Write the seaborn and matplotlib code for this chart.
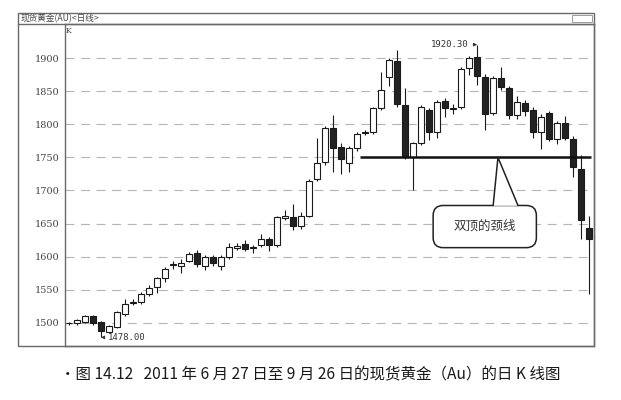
import matplotlib
matplotlib.use("Agg")
import matplotlib.pyplot as plt
import seaborn as sns
import numpy as np
import pandas as pd
from matplotlib.patches import Rectangle, FancyBboxPatch, Polygon
from matplotlib.lines import Line2D

# --- DADOS (27/06/2011 a 26/09/2011, 66 pregões) ---
opens = [1499, 1499, 1501, 1510, 1501, 1486, 1494, 1514, 1530, 1531,
         1544, 1554, 1567, 1587, 1586, 1594, 1605, 1586, 1599, 1586,
         1599, 1613, 1619, 1613, 1617, 1626, 1618, 1659, 1660, 1647,
         1662, 1718, 1743, 1794, 1765, 1741, 1764, 1787, 1788, 1824,
         1871, 1896, 1829, 1750, 1771, 1821, 1788, 1835, 1823, 1826,
         1885, 1902, 1871, 1817, 1870, 1855, 1814, 1832, 1821, 1788,
         1817, 1777, 1802, 1778, 1733, 1644]
closes = [1499, 1504, 1510, 1499, 1487, 1495, 1516, 1529, 1532, 1544,
          1553, 1567, 1582, 1588, 1591, 1604, 1589, 1600, 1591, 1600,
          1614, 1616, 1612, 1615, 1627, 1618, 1660, 1661, 1647, 1662,
          1715, 1741, 1795, 1764, 1747, 1764, 1786, 1789, 1824, 1852,
          1897, 1830, 1750, 1771, 1826, 1788, 1834, 1824, 1825, 1883,
          1900, 1873, 1815, 1870, 1856, 1814, 1834, 1820, 1788, 1811,
          1777, 1802, 1780, 1735, 1655, 1626]
highs = [1502, 1506, 1512, 1512, 1503, 1497, 1518, 1536, 1536, 1547,
         1557, 1570, 1585, 1594, 1596, 1607, 1610, 1602, 1603, 1603,
         1620, 1620, 1625, 1618, 1634, 1630, 1662, 1670, 1679, 1668,
         1718, 1779, 1798, 1814, 1772, 1767, 1789, 1792, 1826, 1879,
         1900, 1912, 1855, 1773, 1829, 1824, 1837, 1840, 1830, 1886,
         1903, 1920.3, 1876, 1873, 1887, 1858, 1843, 1837, 1826, 1815,
         1820, 1805, 1812, 1782, 1753, 1662]
lows = [1496, 1497, 1499, 1497, 1478, 1484, 1492, 1511, 1527, 1529,
        1541, 1545, 1562, 1582, 1576, 1592, 1584, 1580, 1586, 1580,
        1596, 1610, 1608, 1606, 1614, 1608, 1614, 1655, 1640, 1642,
        1660, 1714, 1738, 1728, 1725, 1728, 1760, 1784, 1786, 1821,
        1858, 1826, 1748, 1700, 1768, 1776, 1780, 1811, 1815, 1823,
        1874, 1860, 1792, 1814, 1852, 1808, 1808, 1812, 1780, 1762,
        1774, 1770, 1776, 1720, 1627, 1544]
y_ticks = [1500, 1550, 1600, 1650, 1700, 1750, 1800, 1850, 1900]
neckline = 1750
top_label = "1920.30"
low_label = "1478.00"

df = pd.DataFrame({"open": opens, "close": closes, "high": highs, "low": lows})
df["idx"] = np.arange(len(df))
df["up"] = df["close"] >= df["open"]

sns.set_theme(style="white")
plt.rcParams["font.family"] = ["Noto Sans CJK SC", "DejaVu Sans"]

W, H = 621, 400
fig = plt.figure(figsize=(W / 100, H / 100), dpi=100)
fig.patch.set_facecolor("white")

# moldura da janela
def fx(px):
    return px / W

def fy(py):
    return 1 - py / H

frame_col = "#6a6a6a"
fig.add_artist(Rectangle((fx(18), fy(346)), fx(594) - fx(18), fy(13) - fy(346),
                         transform=fig.transFigure, fill=False, ec=frame_col, lw=1.0))
fig.add_artist(Line2D([fx(18), fx(594)], [fy(24), fy(24)], transform=fig.transFigure,
                      color=frame_col, lw=1.0))
fig.add_artist(Rectangle((fx(572), fy(22)), fx(20), fy(15) - fy(22),
                         transform=fig.transFigure, fill=False, ec="#999999", lw=0.7))
fig.text(fx(21), fy(18.5), "现货黄金(AU)<日线>", fontsize=6.2, color="#444444",
         ha="left", va="center")
fig.text(fx(66), fy(31), "K", fontsize=5.5, color="#444444", ha="left", va="center",
         family="DejaVu Serif")

ax = fig.add_axes([fx(65), fy(346), fx(594) - fx(65), fy(24) - fy(346)])
ax.set_xlim(-0.5, 65.6)
ax.set_ylim(1465.0, 1951.5)
for s in ax.spines.values():
    s.set_color(frame_col)
    s.set_linewidth(1.0)

for yv in y_ticks:
    ax.axhline(yv, color="#b5b5b5", lw=0.8, ls=(0, (8, 6)), zorder=0)

ax.set_yticks(y_ticks)
ax.set_yticklabels([str(v) for v in y_ticks], fontsize=7, color="#444444",
                   family="DejaVu Serif")
ax.tick_params(axis="y", length=0, pad=4)
ax.set_xticks([])

# velas
ax.vlines(df["idx"], df["low"], df["high"], color="#1a1a1a", lw=0.8, zorder=2)
body_bottom = df[["open", "close"]].min(axis=1)
body_h = (df["close"] - df["open"]).abs().clip(lower=1.2)
face = np.where(df["up"], "white", "#222222")
ax.bar(df["idx"], body_h, bottom=body_bottom, width=0.72, color=face,
       edgecolor="#1a1a1a", linewidth=0.8, zorder=3)

# linha de pescoço
ax.hlines(neckline, 36.4, 65.2, color="#111111", lw=1.8, zorder=4)

# balão
bx0, bx1 = 45.5, 58.4
by0, by1 = 1613.6, 1677.3
box = FancyBboxPatch((bx0, by0), bx1 - bx0, by1 - by0,
                     boxstyle="round,pad=0,rounding_size=1.25",
                     mutation_aspect=12.1, fc="white", ec="#222222", lw=1.1, zorder=5)
ax.add_patch(box)
tri = Polygon([(53.0, by1 - 0.5), (53.6, neckline), (56.1, by1 - 0.5)], closed=True,
              fc="white", ec="none", zorder=6)
ax.add_patch(tri)
ax.plot([53.0, 53.6, 56.1], [by1, neckline, by1], color="#222222", lw=1.1, zorder=7)
ax.text(52.0, 1645.5, "双顶的颈线", fontsize=9, color="#333333",
        ha="center", va="center", zorder=8)

# anotações de máxima e mínima
ax.annotate(top_label, xy=(51, 1920.3), xytext=(49.9, 1920.3),
            fontsize=6.5, family="DejaVu Sans Mono", color="#333333",
            ha="right", va="center",
            arrowprops=dict(arrowstyle="-|>", lw=0.6, color="#333333",
                            mutation_scale=5, shrinkA=1, shrinkB=0))
ax.annotate(low_label, xy=(4, 1478), xytext=(4.9, 1478),
            fontsize=6.5, family="DejaVu Sans Mono", color="#333333",
            ha="left", va="center",
            arrowprops=dict(arrowstyle="-|>", lw=0.6, color="#333333",
                            mutation_scale=5, shrinkA=1, shrinkB=0))

# legenda da figura
fig.text(fx(60), fy(375), "•图 14.12   2011 年 6 月 27 日至 9 月 26 日的现货黄金（Au）的日 K 线图",
         fontsize=11.2, color="#1a1a1a", ha="left", va="center")

fig.savefig("out.png", dpi=100)
